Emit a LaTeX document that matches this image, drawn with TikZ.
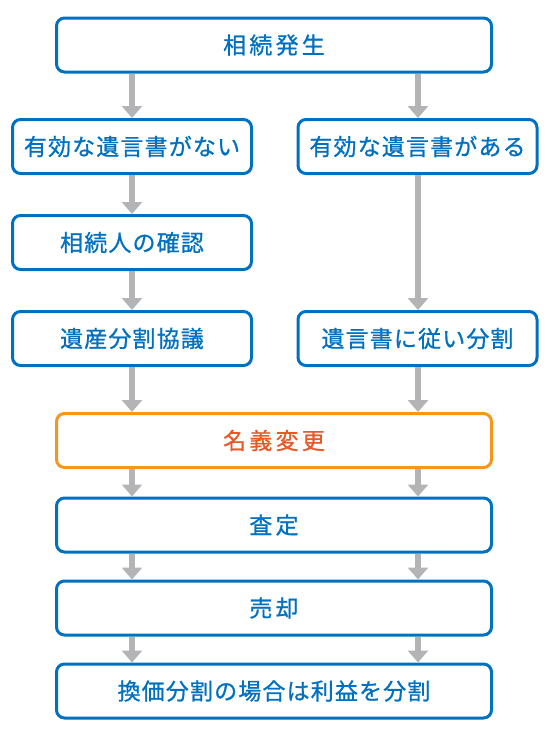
\documentclass[tikz,border=0pt]{standalone}
\usepackage{fontspec}
\setmainfont{Noto Sans CJK JP}[LetterSpace=5, FakeBold=0.8]
\newfontfamily\spacedfont{Noto Sans CJK JP}[LetterSpace=14, FakeBold=0.8]
\usetikzlibrary{arrows.meta, positioning}
\definecolor{flowblue}{RGB}{0,112,192}
\definecolor{floworange}{RGB}{247,150,30}
\definecolor{flowred}{RGB}{234,88,40}
\definecolor{flowgray}{RGB}{180,180,182}
\tikzstyle{box} = [rectangle, draw=flowblue, line width=3pt, rounded corners=8pt, fill=white, text=flowblue, font=\fontsize{23}{27}\selectfont, minimum height=54pt, inner sep=0pt]
\tikzstyle{wide} = [box, minimum width=435pt]
\tikzstyle{half} = [box, minimum width=239pt]
\tikzstyle{spaced} = [font=\spacedfont\fontsize{23}{27}\selectfont]
\tikzstyle{arrow} = [draw=flowgray, line width=6pt, -{Triangle[width=20pt,length=12pt]}]

\begin{document}
\begin{tikzpicture}[x=1pt, y=-1pt]
    \useasboundingbox (0,0) rectangle (550,734);
    % Column lines for the arrows
    \coordinate (lc) at (132,0);
    \coordinate (rc) at (418,0);

    % Start
    \node[wide, spaced] (start) at (274,45) {相続発生};

    % Two branches
    \node[half] (nowill) at (132,146.5) {有効な遺言書がない};
    \node[half] (will) at (417.5,146.5) {有効な遺言書がある};
    \node[half] (heirs) at (132,242.5) {相続人の確認};
    \node[half] (talks) at (132,338.5) {遺産分割協議};
    \node[half] (bywill) at (417.5,338.5) {遺言書に従い分割};

    % Common steps
    \node[wide, spaced, draw=floworange, text=flowred] (rename) at (274,440.5) {名義変更};
    \node[wide, spaced] (assess) at (274,525) {査定};
    \node[wide, spaced] (sale) at (274,608) {売却};
    \node[wide] (split) at (274,691) {換価分割の場合は利益を分割};

    % Arrows - left branch
    \draw[arrow] (start.south -| lc) -- (nowill.north -| lc);
    \draw[arrow] (nowill.south -| lc) -- (heirs.north -| lc);
    \draw[arrow] (heirs.south -| lc) -- (talks.north -| lc);
    \draw[arrow] (talks.south -| lc) -- (rename.north -| lc);

    % Arrows - right branch
    \draw[arrow] (start.south -| rc) -- (will.north -| rc);
    \draw[arrow] (will.south -| rc) -- (bywill.north -| rc);
    \draw[arrow] (bywill.south -| rc) -- (rename.north -| rc);

    % Arrows - both columns
    \draw[arrow] (rename.south -| lc) -- (assess.north -| lc);
    \draw[arrow] (rename.south -| rc) -- (assess.north -| rc);
    \draw[arrow] (assess.south -| lc) -- (sale.north -| lc);
    \draw[arrow] (assess.south -| rc) -- (sale.north -| rc);
    \draw[arrow] (sale.south -| lc) -- (split.north -| lc);
    \draw[arrow] (sale.south -| rc) -- (split.north -| rc);

\end{tikzpicture}
\end{document}
